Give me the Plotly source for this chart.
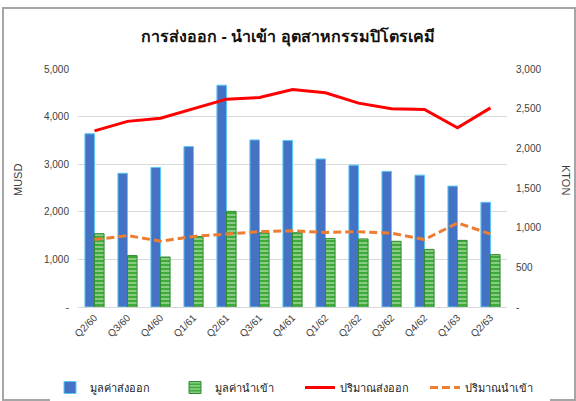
import plotly.graph_objects as go

quarters = ["Q2/60", "Q3/60", "Q4/60", "Q1/61", "Q2/61", "Q3/61", "Q4/61",
            "Q1/62", "Q2/62", "Q3/62", "Q4/62", "Q1/63", "Q2/63"]
export_value = [3640, 2810, 2930, 3370, 4660, 3510, 3500, 3110, 2980, 2850, 2770, 2540, 2200]
import_value = [1540, 1080, 1050, 1480, 2010, 1560, 1560, 1440, 1430, 1380, 1210, 1400, 1100]
export_volume = [2220, 2340, 2380, 2500, 2620, 2640, 2740, 2700, 2570, 2500, 2490, 2260, 2510]
import_volume = [850, 900, 830, 890, 920, 950, 960, 940, 950, 930, 850, 1060, 920]

left_ticks = [0, 1000, 2000, 3000, 4000, 5000]
left_labels = ["-", "1,000", "2,000", "3,000", "4,000", "5,000"]
right_ticks = [0, 500, 1000, 1500, 2000, 2500, 3000]
right_labels = ["-", "500", "1,000", "1,500", "2,000", "2,500", "3,000"]

font = "Liberation Sans, Noto Sans, sans-serif"

fig = go.Figure()
fig.add_trace(go.Bar(
    x=quarters, y=export_value, name="มูลค่าส่งออก",
    marker=dict(color="#4472C4", line=dict(color="#5BC8F5", width=1)),
))
fig.add_trace(go.Bar(
    x=quarters, y=import_value, name="มูลค่านำเข้า",
    marker=dict(color="#3DAA3A", line=dict(color="#2E8B2E", width=1),
                pattern=dict(shape="-", fgcolor="#E8F5E0", size=4, solidity=0.45)),
))
fig.add_trace(go.Scatter(
    x=quarters, y=export_volume, name="ปริมาณส่งออก", yaxis="y2",
    mode="lines", line=dict(color="#FF0000", width=3),
))
fig.add_trace(go.Scatter(
    x=quarters, y=import_volume, name="ปริมาณนำเข้า", yaxis="y2",
    mode="lines", line=dict(color="#ED7D31", width=3, dash="8px,4px"),
))

pw, ph = 576 - 78 - 69, 401 - 69 - 94


def px_x(x):
    return (x - 78) / pw


def px_y(y):
    return (401 - 94 - y) / ph


fig.update_layout(
    width=576, height=401,
    margin=dict(l=78, r=69, t=69, b=94, autoexpand=False),
    paper_bgcolor="white", plot_bgcolor="white",
    font=dict(family=font, size=10, color="#404040"),
    title=dict(text="<b>การส่งออก - นำเข้า อุตสาหกรรมปิโตรเคมี</b>", x=0.5, xanchor="center",
               y=0.91, yanchor="middle", font=dict(size=16, color="#111111")),
    barmode="group", bargap=0.42, bargroupgap=0,
    showlegend=True,
    legend=dict(orientation="h", x=px_x(50), xanchor="left", y=px_y(373), yanchor="top",
                font=dict(size=11, color="#222222"), traceorder="normal",
                entrywidth=80, entrywidthmode="pixels", itemwidth=30),
    xaxis=dict(tickangle=-45, showline=True, linecolor="#D9D9D9", ticks="",
               tickfont=dict(size=10, color="#404040")),
    yaxis=dict(range=[0, 5000], tickvals=left_ticks, ticktext=left_labels,
               showgrid=True, gridcolor="#D9D9D9", zeroline=False,
               tickfont=dict(size=10, color="#404040"), ticklabelstandoff=8),
    yaxis2=dict(range=[0, 3000], tickvals=right_ticks, ticktext=right_labels,
                overlaying="y", side="right", showgrid=False, zeroline=False,
                tickfont=dict(size=10, color="#404040"), ticklabelstandoff=8),
    annotations=[
        dict(text="MUSD", x=px_x(18), y=px_y(180), xref="paper", yref="paper",
             showarrow=False, textangle=-90, xanchor="center", yanchor="middle",
             font=dict(size=11, color="#404040")),
        dict(text="KTON", x=px_x(566), y=px_y(180), xref="paper", yref="paper",
             showarrow=False, textangle=90, xanchor="center", yanchor="middle",
             font=dict(size=11, color="#404040")),
    ],
)

fig.add_shape(type="rect", xref="paper", yref="paper",
              x0=px_x(3), x1=px_x(575), y0=px_y(400), y1=px_y(8),
              line=dict(color="#A6A6A6", width=2), layer="below")

fig.write_html("out.html", config={"displayModeBar": False},
               post_script="document.body.style.margin='0';document.body.style.overflow='hidden';")
